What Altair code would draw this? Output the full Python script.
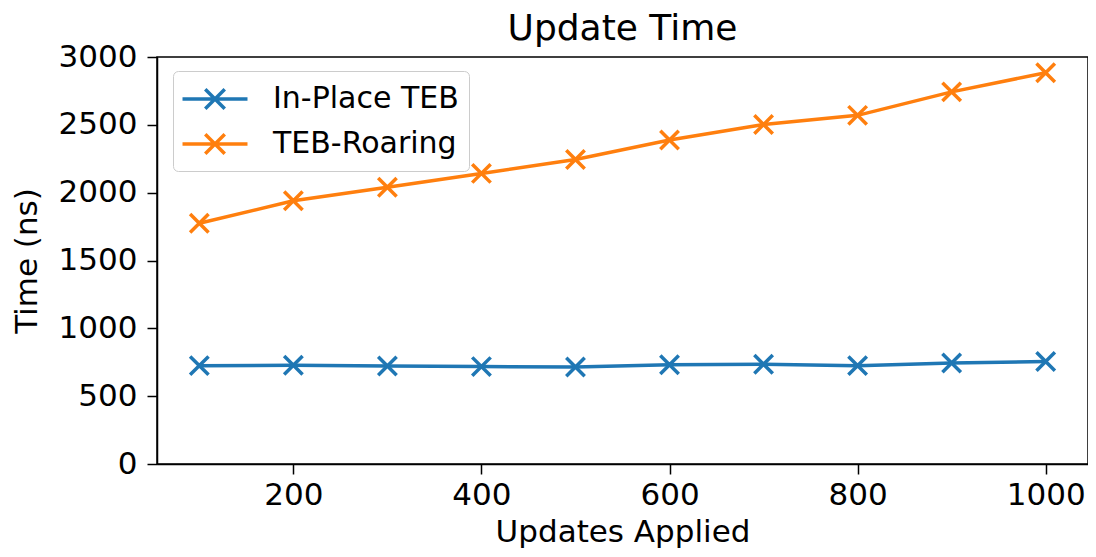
import altair as alt
import pandas as pd

updates = [100, 200, 300, 400, 500, 600, 700, 800, 900, 1000]
inplace_teb = [725, 728, 722, 718, 715, 732, 735, 725, 745, 755]
teb_roaring = [1775, 1940, 2040, 2142, 2245, 2388, 2502, 2570, 2743, 2884]
series_names = ["In-Place TEB", "TEB-Roaring"]
series_colors = ["#1f77b4", "#ff7f0e"]
x_ticks = [200, 400, 600, 800, 1000]
y_ticks = [0, 500, 1000, 1500, 2000, 2500, 3000]

rows = []
for u, v in zip(updates, inplace_teb):
    rows.append({"Updates Applied": u, "Time": v, "series": series_names[0]})
for u, v in zip(updates, teb_roaring):
    rows.append({"Updates Applied": u, "Time": v, "series": series_names[1]})
df = pd.DataFrame(rows)

FONT = "DejaVu Sans"
X_PATH = "M-1,-1L1,1M-1,1L1,-1"
LEG_PATH = "M-2,0H2M-0.6,-0.6L0.6,0.6M-0.6,0.6L0.6,-0.6"

x_enc = alt.X(
    "Updates Applied:Q",
    scale=alt.Scale(domain=[55, 1045], nice=False, zero=False),
    axis=alt.Axis(values=x_ticks, format="d", title="Updates Applied"),
)
y_enc = alt.Y(
    "Time:Q",
    scale=alt.Scale(domain=[0, 3000], nice=False),
    axis=alt.Axis(values=y_ticks, format="d", title="Time (ns)"),
)
color_enc = alt.Color(
    "series:N",
    scale=alt.Scale(domain=series_names, range=series_colors),
    legend=alt.Legend(
        title=None,
        orient="none",
        legendX=16,
        legendY=14,
        symbolType=LEG_PATH,
        symbolSize=1056,
        symbolStrokeWidth=3.5,
        symbolOffset=14,
        labelOffset=40,
        labelFontSize=30,
        labelFont=FONT,
        labelColor="#000000",
        labelLimit=400,
        rowPadding=10,
        padding=10,
        strokeColor="#cccccc",
        fillColor="#ffffff",
        cornerRadius=5,
    ),
)

base = alt.Chart(df).encode(x=x_enc, y=y_enc, color=color_enc)
lines = base.mark_line(strokeWidth=3.5)
points = base.mark_point(shape=X_PATH, size=340, filled=False, strokeWidth=3.5, opacity=1)

chart = (
    alt.layer(lines, points)
    .properties(
        width=931,
        height=407,
        title=alt.TitleParams("Update Time", fontSize=36, font=FONT, fontWeight="normal",
                              color="#000000", anchor="middle", offset=-7),
        autosize=alt.AutoSizeParams(type="none"),
        padding={"left": 149, "top": 49, "right": 0, "bottom": 85},
    )
    .configure_view(stroke="#000000", strokeWidth=1.5)
    .configure_axis(
        labelFont=FONT,
        titleFont=FONT,
        labelFontSize=31,
        titleFontSize=31,
        titleFontWeight="normal",
        labelColor="#000000",
        titleColor="#000000",
        domainColor="#000000",
        domainWidth=1.5,
        tickColor="#000000",
        tickWidth=1.5,
        tickSize=10,
        grid=False,
    )
    .configure_axisX(titlePadding=7, labelPadding=6)
    .configure_axisY(titlePadding=15, labelPadding=10)
)

chart.save("out.html", embed_options={"renderer": "svg", "actions": False})
